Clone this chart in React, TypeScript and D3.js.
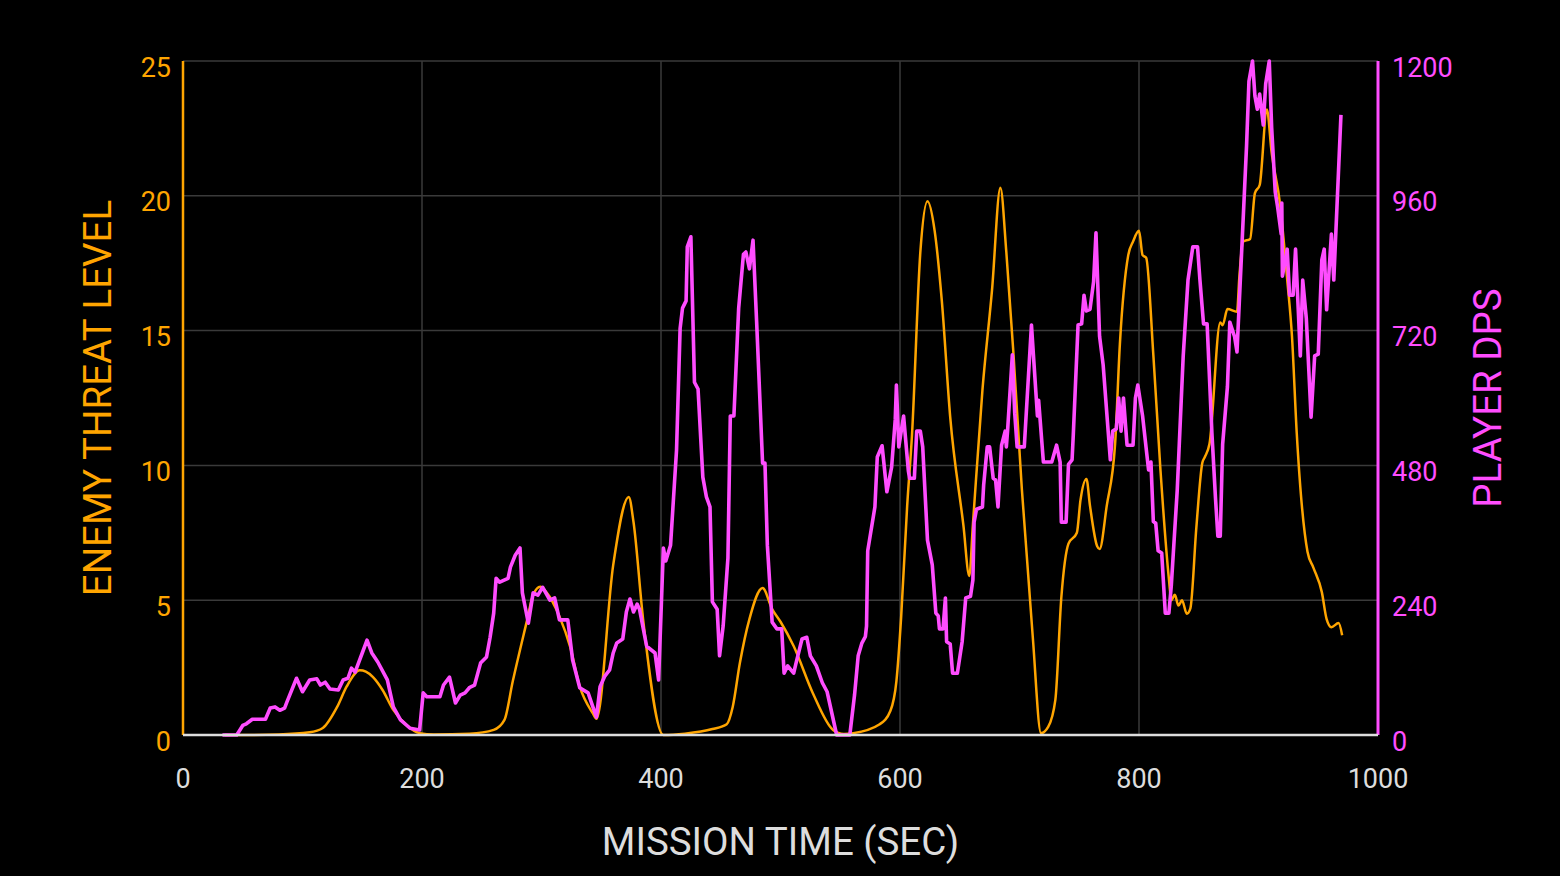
import { useEffect } from "react";
import * as d3 from "d3";

const WIDTH = 1560;
const HEIGHT = 876;
const MARGIN = { top: 61, right: 182, bottom: 141, left: 183 };

const ORANGE = "#ffa500";
const MAGENTA = "#ff4dff";
const LIGHT = "#dddddd";
const GRID = "#3a3a3a";

// enemy threat level (left axis)
const threatTime = [
    35, 45, 80, 106, 117, 129, 137, 148, 153, 159, 167, 176, 187, 198, 210, 240, 260, 269, 276, 288, 293, 299,
    304, 315, 324, 332, 343, 346, 360, 373, 377, 385, 402, 420, 443, 455, 460, 466, 474, 485, 493, 500, 511,
    527, 544, 553, 561, 583, 592, 597, 601, 606, 610, 617, 623, 629, 635, 642, 653, 658, 661, 669, 677, 684,
    689, 695, 702, 711, 718, 724, 730, 735, 741, 748, 751, 756, 759, 765, 767, 773, 780, 784, 791, 795, 800,
    803, 806, 812, 818, 825, 827, 830, 833, 836, 840, 843, 848, 853, 855, 859, 868, 870, 874, 882, 884, 887,
    893, 897, 901, 907, 911, 918, 924, 928, 932, 941, 946, 953, 957, 961, 967, 970,
];
const threatLevel = [
    0, 0, 0.02, 0.1, 0.26, 1.04, 1.8, 2.4, 2.35, 2.15, 1.67, 0.93, 0.37, 0.07, 0.02, 0.05, 0.19, 0.56, 2.0,
    4.27, 5.2, 5.5, 5.3, 4.4, 3.27, 1.8, 0.8, 0.6, 6.3, 8.83, 7.9, 4.3, 0, 0.05, 0.22, 0.4, 1.04, 2.67, 4.3,
    5.45, 4.67, 4.2, 3.3, 1.56, 0.19, 0.04, 0.07, 0.4, 0.9, 2.0, 4.4, 8.5, 11.1, 17.9, 19.8, 18.7, 16.1, 11.8,
    7.8, 5.9, 7.8, 12.8, 16.5, 20.3, 17.9, 14.1, 9.1, 3.7, 0.07, 0.3, 1.3, 5.1, 7.1, 7.5, 8.7, 9.5, 8.5, 7.0,
    6.9, 8.5, 10.8, 14.5, 17.8, 18.3, 18.7, 17.8, 17.7, 14.1, 9.8, 5.8, 5.0, 5.2, 4.8, 5.0, 4.5, 4.7, 7.7,
    10.1, 10.3, 10.8, 15.3, 15.2, 15.8, 15.7, 17.0, 18.3, 18.4, 20.1, 20.4, 23.2, 21.6, 19.7, 16.9, 14.8,
    11.2, 6.8, 6.2, 5.3, 4.3, 4.0, 4.15, 3.7,
];

// player dps (right axis)
const dpsTime = [
    33, 45, 50, 53, 58, 69, 73, 77, 81, 85, 87, 95, 100, 106, 112, 115, 119, 123, 130, 134, 138, 141, 144, 150,
    154, 158, 163, 171, 176, 182, 190, 198, 201, 204, 215, 218, 223, 228, 232, 236, 240, 244, 249, 254, 257,
    260, 262, 265, 272, 274, 278, 282, 284, 289, 293, 297, 301, 307, 311, 315, 322, 326, 332, 339, 343, 346,
    349, 353, 357, 360, 363, 368, 371, 374, 377, 380, 382, 388, 395, 398, 402, 404, 408, 413, 416, 418, 421,
    422, 425, 428, 431, 435, 438, 441, 443, 447, 449, 452, 456, 458, 461, 465, 469, 471, 474, 477, 480, 485,
    487, 489, 493, 497, 501, 503, 506, 511, 513, 518, 522, 525, 530, 535, 539, 547, 558, 562, 565, 568, 571,
    572, 573, 579, 581, 585, 589, 593, 596, 597, 599, 603, 607, 608, 612, 614, 617, 619, 623, 627, 630, 632,
    633, 636, 638, 639, 642, 644, 648, 652, 655, 659, 661, 662, 664, 669, 670, 673, 675, 678, 680, 682, 685,
    688, 689, 690, 694, 696, 698, 704, 710, 715, 716, 720, 727, 731, 734, 735, 739, 741, 744, 745, 749, 752,
    754, 756, 759, 762, 764, 767, 770, 776, 778, 781, 783, 785, 787, 790, 795, 797, 799, 803, 808, 810, 812,
    814, 816, 819, 822, 825, 827, 832, 837, 841, 845, 849, 851, 854, 857, 861, 864, 866, 868, 870, 874, 876,
    880, 882, 886, 890, 892, 895, 897, 899, 901, 904, 906, 909, 911, 914, 916, 919, 919.5, 920, 924, 926, 929,
    931, 935, 937, 940, 944, 947, 950, 953, 955, 957, 961, 963, 969,
];
const dps = [
    0, 0, 17, 20, 28, 28, 48, 50, 44, 48, 59, 101, 77, 98, 100, 89, 94, 82, 80, 98, 101, 119, 112, 146, 169,
    146, 130, 98, 50, 27, 12, 9, 75, 68, 68, 89, 103, 57, 71, 75, 85, 89, 128, 139, 174, 217, 279, 272, 279,
    299, 320, 333, 253, 199, 253, 249, 263, 240, 244, 205, 205, 134, 84, 75, 50, 32, 86, 105, 116, 146, 164,
    171, 219, 242, 219, 233, 224, 158, 146, 98, 333, 310, 338, 507, 724, 760, 773, 869, 887, 628, 616, 459,
    424, 406, 237, 224, 141, 194, 315, 568, 568, 760, 856, 860, 830, 881, 737, 484, 484, 338, 201, 189, 189,
    110, 123, 110, 128, 171, 174, 141, 123, 93, 77, 0, 0, 72, 141, 163, 175, 194, 328, 406, 495, 515, 433,
    477, 561, 623, 513, 568, 470, 457, 457, 541, 541, 513, 347, 303, 217, 212, 189, 189, 244, 166, 162, 110,
    110, 166, 244, 247, 276, 379, 402, 406, 445, 513, 513, 457, 454, 406, 516, 541, 513, 541, 677, 573, 513,
    513, 730, 568, 596, 486, 486, 516, 486, 379, 379, 482, 490, 534, 730, 732, 783, 755, 758, 807, 894, 710,
    659, 490, 541, 545, 600, 541, 600, 516, 516, 600, 623, 568, 472, 486, 380, 377, 328, 324, 217, 217, 265,
    436, 675, 810, 869, 869, 810, 732, 732, 538, 422, 354, 354, 518, 620, 735, 709, 682, 865, 1049, 1164, 1200,
    1138, 1114, 1141, 1086, 1159, 1200, 1082, 967, 940, 892, 947, 817, 865, 783, 783, 865, 675, 810, 742, 566,
    675, 678, 846, 865, 757, 892, 810, 1104,
];

const xTicks = [0, 200, 400, 600, 800, 1000];
const threatTicks = [0, 5, 10, 15, 20, 25];
const dpsTicks = [0, 240, 480, 720, 960, 1200];

export default function App() {
    useEffect(() => {
        document.body.style.margin = "0";
        document.body.style.background = "#000";
    }, []);

    const boundsWidth = WIDTH - MARGIN.left - MARGIN.right;
    const boundsHeight = HEIGHT - MARGIN.top - MARGIN.bottom;

    const xScale = d3.scaleLinear().domain([0, 1000]).range([0, boundsWidth]);
    const yLeft = d3.scaleLinear().domain([0, 25]).range([boundsHeight, 0]);
    const yRight = d3.scaleLinear().domain([0, 1200]).range([boundsHeight, 0]);

    const threatLine = d3
        .line<number>()
        .x((t) => xScale(t))
        .y((_, i) => yLeft(threatLevel[i]))
        .curve(d3.curveMonotoneX);
    const dpsLine = d3
        .line<number>()
        .x((t) => xScale(t))
        .y((_, i) => yRight(dps[i]));

    const font = "Roboto, 'Noto Sans', sans-serif";

    return (
        <svg width={WIDTH} height={HEIGHT} style={{ display: "block", background: "#000" }} fontFamily={font}>
            <rect width={WIDTH} height={HEIGHT} fill="#000" />
            <g transform={`translate(${MARGIN.left},${MARGIN.top})`}>
                {/* grid */}
                {xTicks.slice(1, -1).map((t) => (
                    <line key={"gx" + t} x1={xScale(t)} x2={xScale(t)} y1={0} y2={boundsHeight} stroke={GRID} strokeWidth={1.5} />
                ))}
                {threatTicks.slice(1).map((t) => (
                    <line key={"gy" + t} x1={0} x2={boundsWidth} y1={yLeft(t)} y2={yLeft(t)} stroke={GRID} strokeWidth={1.5} />
                ))}

                {/* series */}
                <path d={threatLine(threatTime) || ""} fill="none" stroke={ORANGE} strokeWidth={2.5} strokeLinejoin="round" />
                <path d={dpsLine(dpsTime) || ""} fill="none" stroke={MAGENTA} strokeWidth={3.6} strokeLinejoin="round" />

                {/* axes */}
                <line x1={0} x2={0} y1={0} y2={boundsHeight} stroke={ORANGE} strokeWidth={2.5} />
                <line x1={boundsWidth} x2={boundsWidth} y1={0} y2={boundsHeight} stroke={MAGENTA} strokeWidth={3} />
                <line x1={0} x2={boundsWidth} y1={boundsHeight} y2={boundsHeight} stroke={LIGHT} strokeWidth={2.5} />

                {xTicks.map((t) => (
                    <text key={"xt" + t} x={xScale(t)} y={boundsHeight + 53} fill={LIGHT} fontSize={27} textAnchor="middle">
                        {t}
                    </text>
                ))}
                {threatTicks.map((t) => (
                    <text key={"lt" + t} x={-12} y={yLeft(t)} dy="0.58em" fill={ORANGE} fontSize={27} textAnchor="end">
                        {t}
                    </text>
                ))}
                {dpsTicks.map((t) => (
                    <text key={"rt" + t} x={boundsWidth + 14} y={yRight(t)} dy="0.58em" fill={MAGENTA} fontSize={27} textAnchor="start">
                        {t}
                    </text>
                ))}

                <text x={boundsWidth / 2} y={boundsHeight + 120} fill={LIGHT} fontSize={38.5} textAnchor="middle">
                    MISSION TIME (SEC)
                </text>
                <text
                    transform={`translate(${-86},${boundsHeight / 2}) rotate(-90)`}
                    fill={ORANGE}
                    fontSize={38.5}
                    textAnchor="middle"
                    dy="0.36em"
                >
                    ENEMY THREAT LEVEL
                </text>
                <text
                    transform={`translate(${boundsWidth + 109},${boundsHeight / 2}) rotate(-90)`}
                    fill={MAGENTA}
                    fontSize={38.5}
                    textAnchor="middle"
                    dy="0.36em"
                >
                    PLAYER DPS
                </text>
            </g>
        </svg>
    );
}
